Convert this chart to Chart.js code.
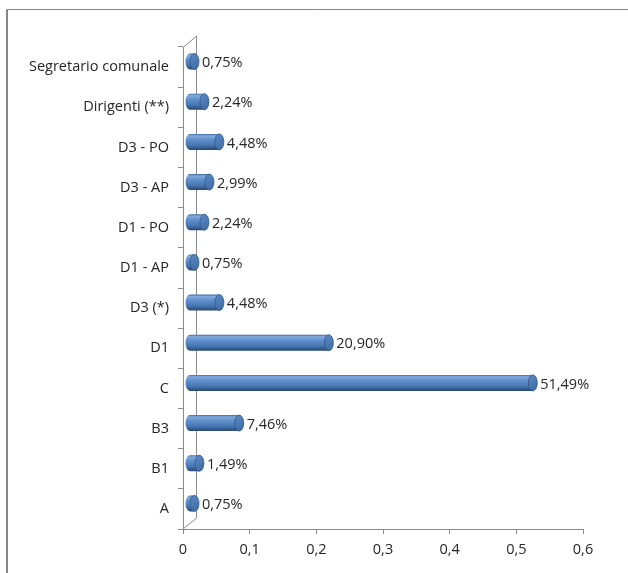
<!DOCTYPE html>
<html>
<head>
<meta charset="utf-8">
<script src="https://cdn.jsdelivr.net/npm/chart.js@4.4.1/dist/chart.umd.min.js"></script>
<style>
  html, body { margin: 0; padding: 0; background: #ffffff; }
  #wrap { width: 628px; height: 573px; position: relative; }
</style>
</head>
<body>
<div id="wrap"><canvas id="c" width="628" height="573"></canvas></div>
<script>
// Staff distribution by category (share of total)
const categories = ['Segretario comunale', 'Dirigenti (**)', 'D3 - PO', 'D3 - AP', 'D1 - PO', 'D1 - AP', 'D3 (*)', 'D1', 'C', 'B3', 'B1', 'A'];
const shares = [0.0075, 0.0224, 0.0448, 0.0299, 0.0224, 0.0075, 0.0448, 0.2090, 0.5149, 0.0746, 0.0149, 0.0075];
const xTicks = [0, 0.1, 0.2, 0.3, 0.4, 0.5, 0.6];

const FONT = "'Open Sans', 'Liberation Sans', sans-serif";
const FONT_SIZE = 14.5;
const AXIS = '#8c8c8c';
const TEXT = '#262626';
const DEPTH = { dx: 13, dy: 11 };

const pct = v => (v * 100).toFixed(2).replace('.', ',') + '%';
const tickFmt = v => v === 0 ? '0' : Number(v).toFixed(1).replace('.', ',');

// Outer frame of the chart object
const framePlugin = {
  id: 'frame',
  beforeDraw(chart) {
    const ctx = chart.ctx;
    ctx.save();
    ctx.fillStyle = '#ffffff';
    ctx.fillRect(0, 0, chart.width, chart.height);
    ctx.strokeStyle = '#868686';
    ctx.lineWidth = 2;
    ctx.beginPath();
    ctx.moveTo(7, chart.height);
    ctx.lineTo(7, 9.5);
    ctx.stroke();
    ctx.lineWidth = 1;
    ctx.beginPath();
    ctx.moveTo(7, 9.5);
    ctx.lineTo(chart.width, 9.5);
    ctx.stroke();
    ctx.restore();
  }
};

// Side wall of the 3D plot
const wallPlugin = {
  id: 'walls',
  beforeDatasetsDraw(chart) {
    const { ctx, chartArea: a } = chart;
    const { dx, dy } = DEPTH;
    ctx.save();
    ctx.strokeStyle = AXIS;
    ctx.lineWidth = 1;
    ctx.beginPath();
    ctx.moveTo(a.left + dx + 0.5, a.top - dy);
    ctx.lineTo(a.left + dx + 0.5, a.bottom - dy);
    ctx.moveTo(a.left, a.top + 0.5);
    ctx.lineTo(a.left + dx + 0.5, a.top - dy);
    ctx.moveTo(a.left, a.bottom);
    ctx.lineTo(a.left + dx + 0.5, a.bottom - dy);
    ctx.stroke();
    ctx.restore();
  }
};

// Cylinder bars with value labels, placed at mid depth
const cylinderPlugin = {
  id: 'cylinders',
  afterDatasetsDraw(chart) {
    const ctx = chart.ctx;
    const meta = chart.getDatasetMeta(0);
    const ox = DEPTH.dx / 2, oy = DEPTH.dy / 2;
    ctx.save();
    meta.data.forEach((el, i) => {
      const p = el.getProps(['x', 'y', 'base', 'height'], true);
      const x0 = p.base + ox;
      const x1 = p.x + ox;
      const cy = p.y - oy;
      const h = p.height;
      const top = cy - h / 2, bot = cy + h / 2;
      const rx = h * 0.28;

      const g = ctx.createLinearGradient(0, top, 0, bot);
      g.addColorStop(0, '#3f6ca3');
      g.addColorStop(0.12, '#82abdd');
      g.addColorStop(0.35, '#6190cc');
      g.addColorStop(0.7, '#4777b3');
      g.addColorStop(1, '#264871');

      ctx.beginPath();
      ctx.moveTo(x0, top);
      ctx.lineTo(x1, top);
      ctx.lineTo(x1, bot);
      ctx.lineTo(x0, bot);
      ctx.ellipse(x0, cy, rx, h / 2, 0, Math.PI / 2, Math.PI * 1.5);
      ctx.closePath();
      ctx.fillStyle = g;
      ctx.fill();

      const cg = ctx.createLinearGradient(x1 - rx, top, x1 + rx, bot);
      cg.addColorStop(0, '#5c8ac5');
      cg.addColorStop(1, '#3d69a1');
      ctx.beginPath();
      ctx.ellipse(x1, cy, rx, h / 2, 0, 0, Math.PI * 2);
      ctx.fillStyle = cg;
      ctx.fill();
      ctx.strokeStyle = '#2f5585';
      ctx.lineWidth = 0.8;
      ctx.stroke();

      ctx.fillStyle = TEXT;
      ctx.font = FONT_SIZE + 'px ' + FONT;
      ctx.textAlign = 'left';
      ctx.textBaseline = 'middle';
      ctx.fillText(pct(shares[i]), x1 + rx + 3, cy + 1.5);
    });
    ctx.restore();
  }
};

new Chart(document.getElementById('c'), {
  type: 'bar',
  data: {
    labels: categories,
    datasets: [{
      data: shares,
      backgroundColor: 'rgba(0,0,0,0)',
      borderWidth: 0,
      barThickness: 16
    }]
  },
  options: {
    indexAxis: 'y',
    responsive: false,
    animation: false,
    devicePixelRatio: 1,
    layout: { padding: { left: 0, right: 45, top: 47, bottom: 0 } },
    plugins: { legend: { display: false }, tooltip: { enabled: false }, title: { display: false } },
    scales: {
      x: {
        min: 0, max: 0.6,
        afterBuildTicks: s => { s.ticks = xTicks.map(v => ({ value: v })); },
        afterFit: s => { s.height = 44; },
        grid: { drawOnChartArea: false, drawTicks: true, tickLength: 5, color: AXIS },
        border: { color: AXIS },
        ticks: { color: TEXT, font: { family: FONT, size: FONT_SIZE }, padding: 7, callback: v => tickFmt(v) }
      },
      y: {
        offset: true,
        afterFit: s => { s.width = 183; },
        grid: { offset: true, drawOnChartArea: false, drawTicks: true, tickLength: 5, color: AXIS },
        border: { color: AXIS },
        ticks: { color: TEXT, font: { family: FONT, size: FONT_SIZE }, padding: 9 }
      }
    }
  },
  plugins: [framePlugin, wallPlugin, cylinderPlugin]
});
</script>
</body>
</html>
